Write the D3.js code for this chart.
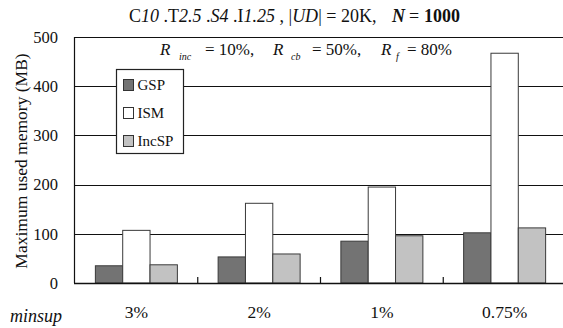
<!DOCTYPE html>
<html>
<head>
<meta charset="utf-8">
<script src="https://cdn.jsdelivr.net/npm/d3@7/dist/d3.min.js"></script>
<style>
  html, body { margin: 0; padding: 0; background: #fff; }
  svg { display: block; }
  text { font-family: "Liberation Serif", "DejaVu Serif", serif; fill: #111; }
</style>
</head>
<body>
<svg id="chart" width="563" height="328"></svg>
<script>
// Minimum support levels on the x axis
const categories = ["3%", "2%", "1%", "0.75%"];
// Algorithms compared
const seriesNames = ["GSP", "ISM", "IncSP"];
// Maximum used memory (MB) per algorithm at each minsup
const gspValues = [35, 53, 85, 102];
const ismValues = [107, 162, 195, 467];
const incspValues = [37, 59, 96, 112];
const yTicks = [0, 100, 200, 300, 400, 500];
const seriesColors = ["#737373", "#ffffff", "#c2c2c2"];

const seriesValues = [gspValues, ismValues, incspValues];
const rows = categories.map((c, i) => ({
  cat: c,
  vals: seriesNames.map((s, j) => ({ key: s, value: seriesValues[j][i], color: seriesColors[j] }))
}));

const svg = d3.select("#chart");
const plotLeft = 74, plotRight = 566, plotTop = 37, plotBottom = 283;

const y = d3.scaleLinear().domain([0, 500]).range([plotBottom, plotTop]);
const x0 = d3.scaleBand().domain(categories).range([plotLeft + 1, plotRight]).padding(0);
const groupWidth = 82;
const pad = (x0.bandwidth() - groupWidth) / 2;
const x1 = d3.scaleBand().domain(seriesNames).range([pad, pad + groupWidth]).padding(0);

// Horizontal gridlines
svg.append("g")
  .selectAll("line")
  .data(yTicks.filter(t => t > 0 && t < 500))
  .join("line")
  .attr("x1", plotLeft).attr("x2", plotRight)
  .attr("y1", d => Math.round(y(d)) + 0.5).attr("y2", d => Math.round(y(d)) + 0.5)
  .attr("stroke", "#111").attr("stroke-width", 1);

// Frame: top and left edges
svg.append("path")
  .attr("d", `M${plotLeft + 0.5},${plotBottom}V${plotTop + 0.5}H${plotRight}`)
  .attr("fill", "none").attr("stroke", "#111").attr("stroke-width", 1.2);

// Y-axis tick labels
const yAxis = d3.axisLeft(y).tickValues(yTicks).tickSize(0).tickPadding(16).tickFormat(d3.format("d"));
const gy = svg.append("g").attr("transform", `translate(${plotLeft},0)`).call(yAxis);
gy.select(".domain").remove();
gy.selectAll("text")
  .attr("font-family", "Liberation Serif, serif")
  .attr("font-size", 16.5).attr("fill", "#111");

// Bars
const groups = svg.append("g")
  .selectAll("g")
  .data(rows)
  .join("g")
  .attr("transform", d => `translate(${x0(d.cat)},0)`);
groups.selectAll("rect")
  .data(d => d.vals)
  .join("rect")
  .attr("x", d => x1(d.key))
  .attr("width", x1.bandwidth())
  .attr("y", d => y(d.value))
  .attr("height", d => y(0) - y(d.value))
  .attr("fill", d => d.color)
  .attr("stroke", "#3a3a3a").attr("stroke-width", 1);

// X axis baseline with inward ticks between categories
svg.append("line")
  .attr("x1", plotLeft).attr("x2", plotRight)
  .attr("y1", plotBottom + 0.5).attr("y2", plotBottom + 0.5)
  .attr("stroke", "#111").attr("stroke-width", 1.5);
svg.append("g")
  .selectAll("line")
  .data(categories.slice(1))
  .join("line")
  .attr("x1", d => x0(d)).attr("x2", d => x0(d))
  .attr("y1", plotBottom).attr("y2", plotBottom - 6)
  .attr("stroke", "#111").attr("stroke-width", 1.2);

// Category labels
const xAxis = d3.axisBottom(x0).tickSize(0).tickPadding(23);
const gx = svg.append("g").attr("transform", `translate(0,${plotBottom})`).call(xAxis);
gx.select(".domain").remove();
gx.selectAll("text")
  .attr("font-family", "Liberation Serif, serif")
  .attr("font-size", 17.5).attr("fill", "#111");

// Axis titles
svg.append("text")
  .attr("transform", `translate(27,${(plotTop + plotBottom) / 2 + 1}) rotate(-90)`)
  .attr("text-anchor", "middle")
  .attr("font-size", 17.5)
  .text("Maximum used memory (MB)");
svg.append("text")
  .attr("x", 10).attr("y", 322)
  .attr("font-size", 18).attr("font-style", "italic")
  .text("minsup");

// Title line: dataset parameters (runs flow naturally; null = no explicit x)
const title = svg.append("text")
  .attr("x", 129).attr("y", 22)
  .attr("font-size", 18)
  .attr("xml:space", "preserve");
[
  ["C", null, "normal", "normal"], ["10", null, "italic", "normal"],
  [" .T", null, "normal", "normal"], ["2.5", null, "italic", "normal"],
  [" .", null, "normal", "normal"], ["S4", null, "italic", "normal"],
  [" .I", null, "normal", "normal"], ["1.25", null, "italic", "normal"],
  [" , |", null, "normal", "normal"], ["UD", null, "italic", "normal"],
  ["| = 20K,", null, "normal", "normal"],
  ["N", 392, "italic", "bold"], ["=", 409, "normal", "normal"],
  ["1000", 424, "normal", "bold"]
].forEach(([t, px, st, wt]) => {
  const ts = title.append("tspan").attr("font-style", st).attr("font-weight", wt).text(t);
  if (px !== null) ts.attr("x", px);
});

// Subtitle: ratio settings with subscripts
const sub = svg.append("text")
  .attr("y", 55)
  .attr("font-size", 17);
const parts = [
  ["R", 160, "italic", 0, 17], ["inc", 179, "italic", 5, 10], ["= 10%,", 205, "normal", -5, 17],
  ["R", 273, "italic", 0, 17], ["cb", 291, "italic", 5, 10], ["= 50%,", 312, "normal", -5, 17],
  ["R", 381, "italic", 0, 17], ["f", 396, "italic", 5, 10], ["= 80%", 407, "normal", -5, 17]
];
parts.forEach(([t, px, st, dy, fs]) => {
  sub.append("tspan").attr("x", px).attr("font-style", st).attr("dy", dy).attr("font-size", fs).text(t);
});

// Legend
const legend = svg.append("g").attr("transform", "translate(116.5,69.5)");
legend.append("rect")
  .attr("width", 67).attr("height", 84)
  .attr("fill", "#fff").attr("stroke", "#222").attr("stroke-width", 1.2);
seriesNames.forEach((s, i) => {
  const row = legend.append("g").attr("transform", `translate(7,${10 + i * 28})`);
  row.append("rect")
    .attr("width", 10).attr("height", 11)
    .attr("fill", seriesColors[i]).attr("stroke", "#333").attr("stroke-width", 1);
  row.append("text")
    .attr("x", 14).attr("y", 10.5)
    .attr("font-size", 15)
    .text(s);
});
</script>
</body>
</html>
